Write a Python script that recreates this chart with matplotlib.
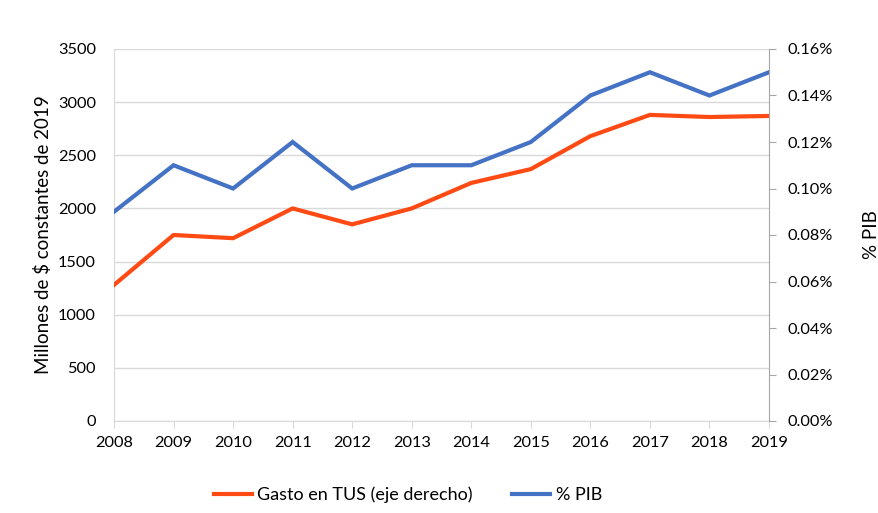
import matplotlib
matplotlib.use("Agg")
from matplotlib import pyplot as plt
from matplotlib.ticker import FuncFormatter, MultipleLocator

plt.rcParams['font.family'] = ['Lato', 'DejaVu Sans']

years = [2008, 2009, 2010, 2011, 2012, 2013, 2014, 2015, 2016, 2017, 2018, 2019]
gasto = [1280, 1750, 1720, 2000, 1850, 2000, 2240, 2370, 2680, 2880, 2860, 2870]
pib = [0.09, 0.11, 0.10, 0.12, 0.10, 0.11, 0.11, 0.12, 0.14, 0.15, 0.14, 0.15]

orange = '#FF4A14'
blue = '#4472C4'
grid_c = '#D9D9D9'
fs = 11.8

fig = plt.figure(figsize=(8.79, 5.13), dpi=100)
ax = fig.add_axes([114 / 879, 1 - 421 / 513, (769 - 114) / 879, (421 - 49) / 513])
ax2 = ax.twinx()

l1, = ax.plot(years, gasto, color=orange, lw=3, solid_joinstyle='miter', zorder=3)
l2, = ax2.plot(years, pib, color=blue, lw=3, solid_joinstyle='miter', zorder=3)

ax.set_xlim(2008, 2019)
ax.set_ylim(0, 3500)
ax2.set_ylim(0, 0.16)
ax.yaxis.set_major_locator(MultipleLocator(500))
ax2.yaxis.set_major_locator(MultipleLocator(0.02))
ax2.yaxis.set_major_formatter(FuncFormatter(lambda v, p: f'{v:.2f}%'))
ax.set_xticks(years)

ax.grid(axis='y', color=grid_c, lw=1)
ax.set_axisbelow(True)

for a in (ax, ax2):
    a.spines['top'].set_visible(False)
ax.spines['right'].set_visible(False)
ax2.spines['left'].set_visible(False)
ax2.spines['bottom'].set_visible(False)
ax.spines['left'].set_color(grid_c)
ax.spines['bottom'].set_color(grid_c)
ax2.spines['right'].set_color('#A6A6A6')

ax.tick_params(axis='y', length=0, pad=13, labelsize=fs, colors='black')
ax.tick_params(axis='x', length=5, color=grid_c, pad=6, labelsize=fs)
ax2.tick_params(axis='y', length=5, color='#A6A6A6', pad=8, labelsize=fs)

ax.set_ylabel('Millones de $ constantes de 2019', fontsize=13.5, labelpad=4)
ax2.set_ylabel('% PIB', fontsize=13.5, labelpad=22)

fig.legend([l1, l2], ['Gasto en TUS (eje derecho)', '% PIB'], loc='center',
           bbox_to_anchor=(408 / 879, 1 - 495 / 513), ncol=2, frameon=False,
           fontsize=13, handlelength=2.1, handletextpad=0.3, columnspacing=2.2)

fig.savefig('out.png', dpi=100)
